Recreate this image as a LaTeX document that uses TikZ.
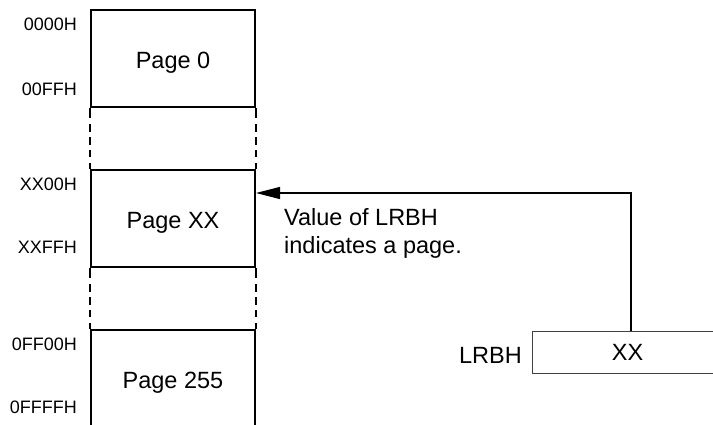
\documentclass[tikz,border=0pt]{standalone}
\usepackage{fontspec}
\setmainfont{Liberation Sans}
\usetikzlibrary{arrows.meta}
\begin{document}
\begin{tikzpicture}[x=1pt, y=-1pt,
  wall/.style={line width=2pt},
  gapline/.style={line width=2pt,
    dash pattern=on 10pt off 6pt on 8pt off 5pt on 8pt off 5pt on 7pt off 6pt on 20pt},
  pagebox/.style={draw, line width=2pt, minimum width=164pt, inner sep=0pt},
  pagename/.style={anchor=base, inner sep=0pt, font=\fontsize{23.5}{28}\selectfont},
  addr/.style={anchor=base east, inner sep=0pt, font=\fontsize{18}{21}\selectfont},
  regbox/.style={draw=black!75, line width=1pt, minimum width=191pt, minimum height=42pt,
    inner sep=0pt, font=\fontsize{23.5}{28}\selectfont},
  note/.style={inner sep=0pt, align=left, font=\fontsize{23.5}{28}\selectfont},
  ptr/.style={line width=1.2pt, -{Triangle[length=24pt, width=12pt]}}
]
\useasboundingbox (0,0) rectangle (713,424);
\clip (0,0) rectangle (713,424);

% memory pages
\node[pagebox, minimum height=97pt]  (page0)   at (173,58.5)  {};
\node[pagebox, minimum height=97pt]  (pageXX)  at (173,218.5) {};
\node[pagebox, minimum height=110pt] (page255) at (173,385)   {};

\node[pagename] (p0)   at (173,68)  {Page 0};
\node[pagename] (pXX)  at (173,228) {Page XX};
\node[pagename] (p255) at (173,388) {Page 255};

% broken side walls between pages
\draw[gapline] (page0.south west)  -- (pageXX.north west);
\draw[gapline] (page0.south east)  -- (pageXX.north east);
\draw[gapline] (pageXX.south west) -- (page255.north west);
\draw[gapline] (pageXX.south east) -- (page255.north east);

% address labels
\node[addr] (a0)  at (77,30)  {0000H};
\node[addr] (a1)  at (77,95)  {00FFH};
\node[addr] (a2)  at (77,190) {XX00H};
\node[addr] (a3)  at (77,253) {XXFFH};
\node[addr] (a4)  at (77,350) {0FF00H};
\node[addr] (a5)  at (77,413) {0FFFFH};

% page register
\node[regbox] (reg) at (627.5,352) {XX};
\node[addr, font=\fontsize{23.5}{28}\selectfont] (regname) at (522,363) {LRBH};

% pointer from the register to the selected page
\coordinate (hit) at ([yshift=25.5pt]pageXX.east);
\draw[ptr] ([xshift=3.5pt]reg.north) |- (hit);

\node[note, anchor=north west] (why) at (284,208) {Value of LRBH\\indicates a page.};
\end{tikzpicture}
\end{document}
